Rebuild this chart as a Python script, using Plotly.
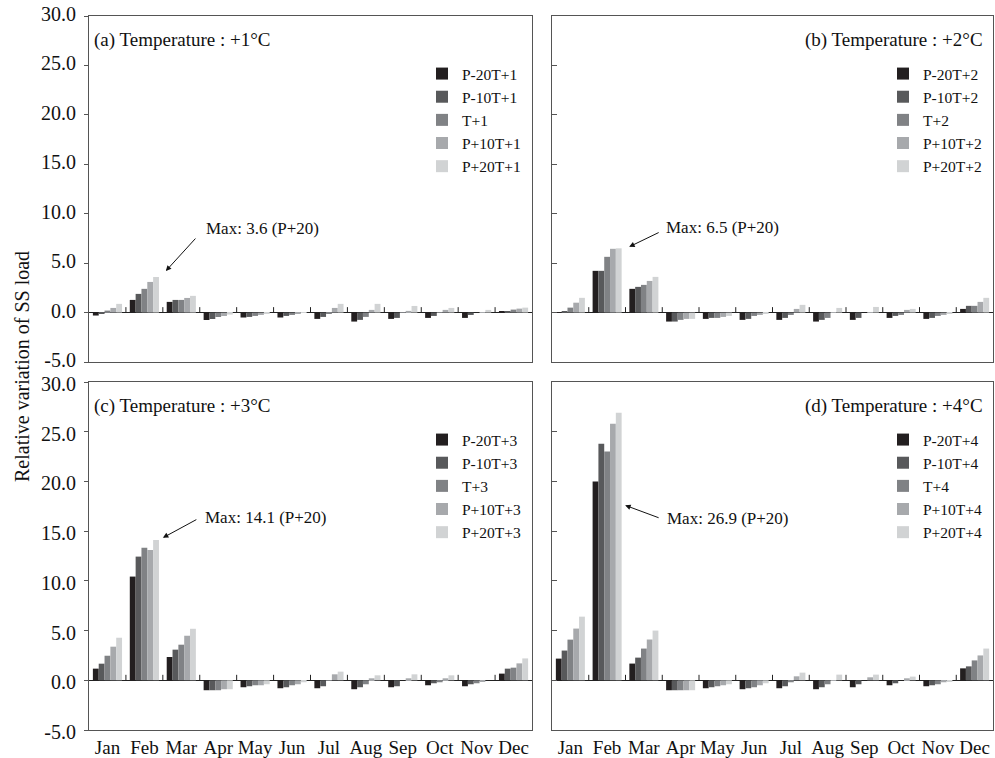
import plotly.graph_objects as go

# ---------------------------------------------------------------- data
months = ["Jan", "Feb", "Mar", "Apr", "May", "Jun",
          "Jul", "Aug", "Sep", "Oct", "Nov", "Dec"]

# (a) temperature +1 °C
t1_p20m = [-0.30, 1.28, 1.08, -0.75, -0.50, -0.50, -0.64, -0.91, -0.64, -0.54, -0.54, 0.10]
t1_p10m = [-0.05, 1.89, 1.28, -0.65, -0.44, -0.34, -0.44, -0.74, -0.54, -0.34, -0.24, 0.15]
t1_base = [0.20, 2.40, 1.28, -0.45, -0.34, -0.24, -0.05, -0.44, -0.02, 0.02, 0.00, 0.30]
t1_p10p = [0.47, 3.10, 1.48, -0.35, -0.24, -0.13, 0.47, 0.27, 0.17, 0.27, 0.05, 0.40]
t1_p20p = [0.88, 3.60, 1.69, -0.20, -0.13, 0.05, 0.88, 0.88, 0.67, 0.47, 0.27, 0.50]

# (b) temperature +2 °C
t2_p20m = [0.05, 4.22, 2.40, -0.91, -0.64, -0.74, -0.74, -0.91, -0.74, -0.54, -0.64, 0.37]
t2_p10m = [0.10, 4.22, 2.60, -0.91, -0.54, -0.64, -0.54, -0.74, -0.54, -0.34, -0.54, 0.68]
t2_base = [0.50, 5.64, 2.80, -0.74, -0.54, -0.34, -0.24, -0.54, 0.00, -0.24, -0.34, 0.68]
t2_p10p = [1.00, 6.45, 3.20, -0.64, -0.44, -0.24, 0.37, 0.02, 0.05, 0.27, -0.24, 1.08]
t2_p20p = [1.49, 6.50, 3.61, -0.64, -0.34, -0.13, 0.78, 0.47, 0.57, 0.37, -0.05, 1.49]

# (c) temperature +3 °C
t3_p20m = [1.17, 10.43, 2.34, -1.00, -0.70, -0.80, -0.80, -0.90, -0.70, -0.50, -0.60, 0.67]
t3_p10m = [1.67, 12.44, 3.08, -1.00, -0.60, -0.70, -0.60, -0.70, -0.60, -0.30, -0.40, 1.17]
t3_base = [2.47, 13.34, 3.58, -1.00, -0.50, -0.50, -0.05, -0.40, 0.00, -0.20, -0.30, 1.27]
t3_p10p = [3.38, 13.10, 4.48, -0.90, -0.50, -0.40, 0.60, 0.20, 0.20, 0.20, -0.10, 1.70]
t3_p20p = [4.28, 14.10, 5.18, -0.90, -0.40, -0.20, 0.87, 0.50, 0.60, 0.50, 0.00, 2.20]

# (d) temperature +4 °C
t4_p20m = [2.18, 20.00, 1.68, -1.00, -0.80, -0.90, -0.80, -0.90, -0.70, -0.50, -0.60, 1.20]
t4_p10m = [2.99, 23.80, 2.28, -1.00, -0.70, -0.80, -0.60, -0.70, -0.40, -0.30, -0.50, 1.40]
t4_base = [4.09, 23.00, 3.19, -1.00, -0.60, -0.70, -0.20, -0.40, 0.00, 0.00, -0.40, 2.00]
t4_p10p = [5.20, 25.80, 4.10, -1.00, -0.50, -0.50, 0.40, 0.02, 0.30, 0.20, -0.20, 2.50]
t4_p20p = [6.40, 26.90, 5.00, -1.00, -0.40, -0.30, 0.77, 0.57, 0.57, 0.37, -0.10, 3.19]

rain_labels = ["P-20", "P-10", "", "P+10", "P+20"]
bar_colors = ["#231f20", "#58595b", "#808285", "#a7a9ac", "#d1d3d4"]
y_ticks = [-5, 0, 5, 10, 15, 20, 25, 30]

panels = [
    dict(tag="(a)", dT=1, series=[t1_p20m, t1_p10m, t1_base, t1_p10p, t1_p20p]),
    dict(tag="(b)", dT=2, series=[t2_p20m, t2_p10m, t2_base, t2_p10p, t2_p20p]),
    dict(tag="(c)", dT=3, series=[t3_p20m, t3_p10m, t3_base, t3_p10p, t3_p20p]),
    dict(tag="(d)", dT=4, series=[t4_p20m, t4_p10m, t4_base, t4_p10p, t4_p20p]),
]

# ---------------------------------------------------------------- layout geometry (pixels)
W, H = 995, 758
FONT = "Liberation Serif"
col_px = [(89, 532), (552, 993)]
row_px = [(16, 362), (382, 730)]


def px_x(v):
    return v / W


def px_y(v):
    return (H - v) / H


fig = go.Figure()
annotations = []
shapes = []

for k, p in enumerate(panels):
    row, col = divmod(k, 2)
    sfx = "" if k == 0 else str(k + 1)
    xa, ya = "x" + sfx, "y" + sfx
    leg = "legend" + sfx

    for name_pre, vals, color in zip(rain_labels, p["series"], bar_colors):
        fig.add_trace(go.Bar(
            x=months, y=vals, name=f"{name_pre}T+{p['dT']}",
            marker=dict(color=color, line=dict(width=0)),
            xaxis=xa, yaxis=ya, legend=leg,
        ))

    x0, x1 = col_px[col]
    y0, y1 = row_px[row]
    left = col == 0
    bottom = row == 1

    fig.layout["xaxis" + sfx] = dict(
        domain=[px_x(x0), px_x(x1)], anchor=ya, type="category",
        range=[-0.5, len(months) - 0.5], automargin=False,
        showline=True, mirror=True, linecolor="#555", linewidth=1,
        showgrid=False, zeroline=False, ticks="",
        showticklabels=bottom,
        tickfont=dict(family=FONT, size=19, color="#111"),
    )
    fig.layout["yaxis" + sfx] = dict(
        domain=[px_y(y1), px_y(y0)], anchor=xa, range=[-5, 30], automargin=False,
        tickvals=y_ticks, ticktext=[f"{v:.1f}" for v in y_ticks],
        showline=True, mirror=True, linecolor="#555", linewidth=1,
        showgrid=False, zeroline=True, zerolinecolor="#222", zerolinewidth=1,
        ticks="outside" if left else "inside", ticklen=4 if left else 5,
        tickcolor="#555", showticklabels=left, ticklabelstandoff=4,
        ticklabelshift=-2 if row == 0 else 2,
        tickfont=dict(family=FONT, size=20, color="#111"),
    )

    # small month separators standing on the zero line
    for i in range(1, len(months)):
        shapes.append(dict(type="line", xref=xa, yref=ya,
                           x0=i - 0.5, x1=i - 0.5, y0=0, y1=0.55,
                           line=dict(color="#222", width=1)))

    # panel title
    title = f"{p['tag']} Temperature : +{p['dT']}°C"
    annotations.append(dict(
        text=title, xref="paper", yref="paper", showarrow=False,
        x=px_x(x0 + 3) if left else px_x(x1 - 8),
        xanchor="left" if left else "right",
        y=px_y(y0 + 24), yanchor="middle",
        font=dict(family=FONT, size=19, color="#111"),
    ))

    # legend placement (upper right inside each panel)
    fig.layout[leg] = dict(
        x=px_x(x1 - 110), y=px_y(y0 + 41), xanchor="left", yanchor="top",
        bgcolor="rgba(0,0,0,0)", font=dict(family=FONT, size=15.5, color="#111"),
        tracegroupgap=0,
    )

# ---------------------------------------------------------------- "Max" call-outs
# arrow head offset (category units, data units), tail offset and text offset (pixels)
callouts = [
    dict(dx=0.58, dy=0.60, ax=31, ay=-34, tx=38, ty=43),
    dict(dx=0.60, dy=0.15, ax=31, ay=-15, tx=35, ty=19),
    dict(dx=0.50, dy=0.23, ax=35, ay=-19, tx=40, ty=20),
    dict(dx=0.49, dy=-9.30, ax=35, ay=13, tx=40, ty=-13),
]
for k, (p, c) in enumerate(zip(panels, callouts)):
    sfx = "" if k == 0 else str(k + 1)
    top = p["series"][-1]
    imax = max(range(len(top)), key=lambda i: top[i])
    hx, hy = imax + c["dx"], top[imax] + c["dy"]
    annotations.append(dict(
        xref="x" + sfx, yref="y" + sfx, x=hx, y=hy, ax=c["ax"], ay=c["ay"],
        text="", showarrow=True, arrowhead=2, arrowsize=1.1, arrowwidth=1,
        arrowcolor="#111", standoff=0,
    ))
    annotations.append(dict(
        xref="x" + sfx, yref="y" + sfx, x=hx, y=hy,
        xshift=c["tx"], yshift=c["ty"],
        text=f"Max: {top[imax]:.1f} (P+20)", showarrow=False,
        xanchor="left", yanchor="middle",
        font=dict(family=FONT, size=17, color="#111"),
    ))

# shared y-axis title
annotations.append(dict(
    text="Relative variation of SS load", xref="paper", yref="paper",
    x=px_x(22), y=px_y(367), textangle=-90, showarrow=False,
    xanchor="center", yanchor="middle",
    font=dict(family=FONT, size=20, color="#111"),
))

fig.update_layout(
    width=W, height=H, margin=dict(l=0, r=0, t=0, b=0, autoexpand=False),
    paper_bgcolor="white", plot_bgcolor="white",
    barmode="group", bargap=0.21, bargroupgap=0,
    annotations=annotations, shapes=shapes,
    font=dict(family=FONT, color="#111"),
)

fig.write_html("out.html")
